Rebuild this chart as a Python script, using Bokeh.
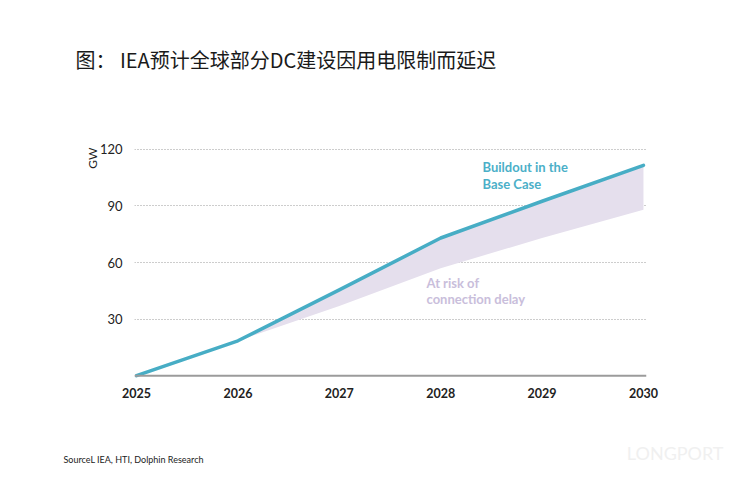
from bokeh.plotting import figure
from bokeh.models import Range1d, FixedTicker, Span, Label, Title
from bokeh.embed import file_html
from bokeh.resources import INLINE

# Data centre buildout (GW)
years = [2025, 2026, 2027, 2028, 2029, 2030]
base_case = [0, 18.5, 45.5, 73, 92.5, 111.5]
delayed_case = [0, 18.5, 37, 57, 73, 88]
y_ticks = [30, 60, 90, 120]

title_text = "图： IEA预计全球部分DC建设因用电限制而延迟"
source_text = "SourceL IEA, HTI, Dolphin Research"
brand_text = "LONGPORT"

W, H = 739, 478
FL, FR, FT, FB = 134, 646, 147, 378
XR = (2024.98, 2030.03)
YR = (-1.5, 121)

p = figure(width=W, height=H, output_backend="svg", toolbar_location=None,
           title=None, x_range=Range1d(*XR), y_range=Range1d(*YR),
           min_border_left=FL, min_border_right=W - FR,
           min_border_top=FT, min_border_bottom=H - FB)
p.outline_line_color = None
p.background_fill_color = "white"
p.border_fill_color = "white"

sx = (FR - FL) / (XR[1] - XR[0])
sy = (FB - FT) / (YR[1] - YR[0])


def dx(px):
    return XR[0] + (px - FL) / sx


def dy(py):
    return YR[0] + (FB - py) / sy


# axes
p.xaxis.ticker = FixedTicker(ticks=years)
p.xaxis.major_label_overrides = {y: str(y) for y in years}
p.xaxis.axis_line_color = None
p.xaxis.major_tick_line_color = None
p.xaxis.minor_tick_line_color = None
p.xaxis.major_label_standoff = 3
p.xaxis.major_label_text_font = "Lato"
p.xaxis.major_label_text_font_style = "bold"
p.xaxis.major_label_text_font_size = "12.5px"
p.xaxis.major_label_text_color = "#222222"

p.yaxis.ticker = FixedTicker(ticks=y_ticks)
p.yaxis.axis_line_color = None
p.yaxis.major_tick_line_color = None
p.yaxis.minor_tick_line_color = None
p.yaxis.major_label_standoff = 6
p.yaxis.major_label_text_font = "Lato"
p.yaxis.major_label_text_font_size = "13px"
p.yaxis.major_label_text_color = "#222222"

p.xgrid.grid_line_color = None
p.ygrid.grid_line_color = "#9a9a9a"
p.ygrid.grid_line_dash = "1 2"
p.ygrid.grid_line_width = 1

p.add_layout(Span(location=0, dimension="width", line_color="#9b9b9b", line_width=2))

# band at risk of connection delay, then the base case line
p.varea(x=years, y1=delayed_case, y2=base_case, fill_color="#e5dfed")
p.line(x=years, y=base_case, line_color="#47adc5", line_width=3.5,
       line_join="round", line_cap="round")

# series notes inside the plot area
for txt, py in [("Buildout in the", 166), ("Base Case", 183)]:
    p.add_layout(Label(x=dx(482), y=dy(py), text=txt, text_baseline="middle",
                       text_font="Lato", text_font_style="bold",
                       text_font_size="13px", text_color="#4bafc8"))

for txt, py in [("At risk of", 282), ("connection delay", 298)]:
    p.add_layout(Label(x=dx(426), y=dy(py), text=txt, text_baseline="middle",
                       text_font="Lato", text_font_style="bold",
                       text_font_size="13px", text_color="#c9bedb"))

# heading (with an empty spacer row between it and the plot)
p.add_layout(Title(text=" ", standoff=43, text_font="Noto Sans CJK SC",
                   text_font_size="20px"), "above")
p.add_layout(Title(text=title_text, align="left", offset=75 - FL, standoff=0,
                   text_font="Noto Sans CJK SC", text_font_size="20px",
                   text_font_style="normal", text_color="#1a1a1a"), "above")

# unit label
p.add_layout(Title(text="GW", align="right", standoff=-6, text_font="Lato",
                   text_font_size="12px", text_font_style="normal",
                   text_color="#222222"), "left")

# source line and brand mark under the axis
p.add_layout(Title(text=" ", standoff=38, text_font="Lato",
                   text_font_size="9px"), "below")
p.add_layout(Title(text=source_text, align="left", offset=63 - FL, standoff=0,
                   text_font="Lato", text_font_size="9px",
                   text_font_style="normal", text_color="#222222"), "below")
p.add_layout(Title(text=brand_text, align="right", offset=FR - 723, standoff=-45,
                   vertical_align="top", text_font="Lato", text_font_size="18px",
                   text_font_style="normal", text_color="#f0f0f0"), "below")

open("out.html", "w").write(file_html(p, INLINE))
